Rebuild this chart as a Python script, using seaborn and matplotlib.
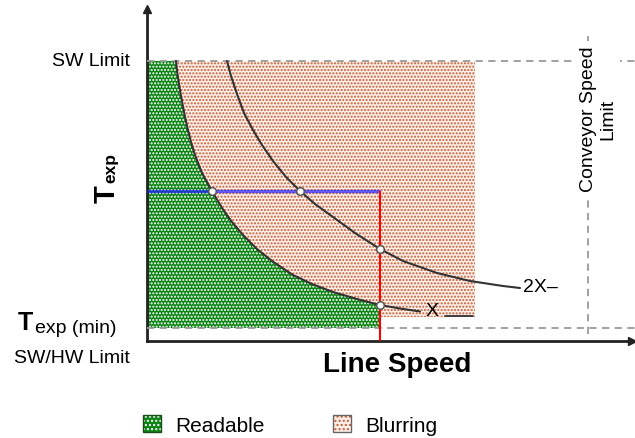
"""Exposure time vs line speed: readable / blurring regions"""
import numpy as np
import matplotlib
matplotlib.use('Agg')
import matplotlib.pyplot as plt
import seaborn as sns
from matplotlib.patches import Patch
from matplotlib.legend_handler import HandlerTuple

# Values (arbitrary units: x = line speed, y = exposure time)
curve_x_speed = [29, 30, 32, 34, 37, 40, 44, 48, 55, 65, 75, 85, 96, 110, 125,
                 146, 165, 186, 210, 233, 253, 273]
curve_x_texp = [280, 270, 257, 245, 229, 215, 199, 186, 168, 150, 133, 119, 106,
                92, 80, 66, 57, 49, 42, 36, 32.5, 29.5]
curve_2x_speed = [80, 84, 90, 97, 106, 115, 126, 139, 153, 168, 186, 208, 233,
                  256, 290, 323, 356, 373]
curve_2x_texp = [280, 265, 247, 228, 211, 196, 180, 164, 150, 137, 124, 108, 92,
                 80, 68, 60, 55, 53]

sw_limit = 280
texp_min = 13
chosen_texp = 150
chosen_speed = 233
blur_speed_max = 328
blur_texp_min = 24
conveyor_limit = 441

marker_speed = [65, 153, 233, 233]
marker_texp = [150, 150, 92, 36]

legend_labels = ['Readable', 'Blurring']

# Colours
GREEN = '#0e8416'
PINK = '#fcefe9'
PINK_DOT = '#c4582f'
CURVE = '#333333'
DASH = '#9a9a9a'

sns.set_style('white')
plt.rcParams['font.family'] = ['Liberation Sans', 'DejaVu Sans']
plt.rcParams['text.color'] = 'black'
plt.rcParams['axes.labelcolor'] = 'black'
plt.rcParams['hatch.linewidth'] = 1.0

fig = plt.figure(figsize=(6.35, 4.39), dpi=100)
ax = fig.add_axes([147 / 635, 97 / 439, 485 / 635, 332 / 439])
ax.set_xlim(0, 485)
ax.set_ylim(0, 332)

# blurring area (rectangle) and readable area (under curve X)
ax.fill_between([0, blur_speed_max], blur_texp_min, sw_limit, facecolor=PINK,
                edgecolor=PINK_DOT, hatch='.....', linewidth=0, zorder=1)
sx = np.array(curve_x_speed)
st = np.array(curve_x_texp)
keep = sx <= chosen_speed
fill_x = np.concatenate([[0], sx[keep]])
fill_y = np.concatenate([[sw_limit], st[keep]])
ax.fill_between(fill_x, texp_min, fill_y, facecolor=GREEN, edgecolor='white',
                hatch='.....', linewidth=0, zorder=2)

# limits
dash = (0, (4, 3))
ax.plot([0, 490], [sw_limit, sw_limit], ls=dash, color=DASH, lw=1.3, zorder=3,
        clip_on=False)
ax.plot([0, 490], [texp_min, texp_min], ls=dash, color=DASH, lw=1.3, zorder=3,
        clip_on=False)
ax.plot([conveyor_limit, conveyor_limit], [7, 309], ls=dash, color=DASH,
        lw=1.3, zorder=3)

# curves
sns.lineplot(x=curve_x_speed, y=curve_x_texp, ax=ax, color=CURVE, lw=1.5, zorder=4)
sns.lineplot(x=curve_2x_speed, y=curve_2x_texp, ax=ax, color=CURVE, lw=1.5, zorder=4)

# operating point lines
ax.plot([0, chosen_speed], [chosen_texp, chosen_texp], color='#2020ff', alpha=0.7,
        lw=2.4, zorder=5, solid_capstyle='butt')
ax.plot([chosen_speed, chosen_speed], [0, chosen_texp], color='red', lw=1.5,
        zorder=5, solid_capstyle='butt')
sns.scatterplot(x=marker_speed, y=marker_texp, ax=ax, s=30, color='white',
                edgecolor='#555555', linewidth=1.1, zorder=6)

# axes with arrows
sns.despine(ax=ax)
for side in ['left', 'bottom']:
    ax.spines[side].set_linewidth(2)
    ax.spines[side].set_color('#222222')
ax.set_xticks([])
ax.set_yticks([])
ax.plot(1, 0, '>', color='#222222', ms=6, transform=ax.transAxes, clip_on=False)
ax.plot(0, 1, '^', color='#222222', ms=6, transform=ax.transAxes, clip_on=False)

# curve labels
ax.text(285, 30, 'X', ha='center', va='center', fontsize=14, zorder=7)
ax.plot([298, 326], [25, 25], color=CURVE, lw=1.3, zorder=7)
ax.text(376, 54, '2X\u2013', ha='left', va='center', fontsize=14, zorder=7)

ax.text(451, 223, 'Conveyor Speed\nLimit', rotation=90, ha='center', va='center',
        multialignment='center', fontsize=14, linespacing=1.15, zorder=8,
        bbox=dict(facecolor='white', edgecolor='none', pad=3))

# y side labels
ax.text(-17, 276, 'SW Limit', ha='right', va='baseline', fontsize=14, clip_on=False)
ax.text(-32, 139, 'T', rotation=90, rotation_mode='anchor', ha='left',
        va='baseline', fontsize=21, fontweight='bold', clip_on=False)
ax.text(-32, 159, 'exp', rotation=90, rotation_mode='anchor', ha='left',
        va='baseline', fontsize=12.5, fontweight='bold', clip_on=False)
ax.text(-129, 12, 'T', ha='left', va='baseline', fontsize=18, fontweight='bold',
        clip_on=False)
ax.text(-112, 9, 'exp (min)', ha='left', va='baseline', fontsize=14, clip_on=False)
ax.text(-17, -21, 'SW/HW Limit', ha='right', va='baseline', fontsize=14, clip_on=False)

ax.set_xlabel('Line Speed', fontsize=20, fontweight='bold')
ax.xaxis.set_label_coords(250 / 485, -0.03)

# legend
h_read = (Patch(facecolor=GREEN, edgecolor='white', hatch='....', lw=0),
          Patch(facecolor='none', edgecolor='#1a4d1a', lw=1))
h_blur = (Patch(facecolor=PINK, edgecolor=PINK_DOT, hatch='....', lw=0),
          Patch(facecolor='none', edgecolor='#666666', lw=1))
fig.legend([h_read, h_blur], legend_labels, loc='center left',
           bbox_to_anchor=(143 / 635, 1 - 426 / 439), ncol=2, frameon=False,
           fontsize=15, handlelength=0.85, handleheight=0.85, handletextpad=0.7,
           columnspacing=3.3, borderpad=0, borderaxespad=0,
           handler_map={tuple: HandlerTuple(ndivide=1)})

fig.savefig('out.png', dpi=100)
